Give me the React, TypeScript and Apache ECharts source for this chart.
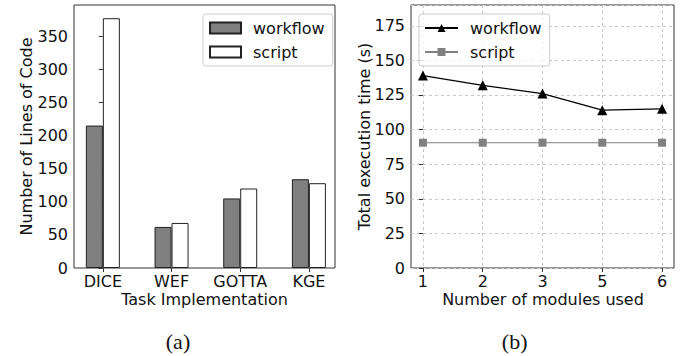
import React, { useEffect, useRef } from "react";
import * as echarts from "echarts";

const taskCategories = ["DICE", "WEF", "GOTTA", "KGE"];
const workflowLoc = [215, 62, 105, 134];
const scriptLoc = [377, 68, 120, 128];

const moduleLabels = ["1", "2", "3", "5", "6"];
const workflowTime = [139, 132, 126, 114, 115];
const scriptTime = [90.5, 90.5, 90.5, 90.5, 90.5];

const FONT = "DejaVu Sans";
const FS = 16;
const TXT = "#111";
const AX = "#333";

export default function App() {
  const ref = useRef<HTMLDivElement>(null);
  useEffect(() => {
    document.body.style.margin = "0";
    const chart = echarts.init(ref.current!, null, { renderer: "svg" });
    const taskIdx = taskCategories.map((_, i) => i);
    const modIdx = moduleLabels.map((_, i) => i);
    const legendBase = {
      orient: "vertical" as const,
      itemGap: 6,
      borderColor: "#cccccc",
      borderWidth: 1,
      borderRadius: 3,
      backgroundColor: "rgba(255,255,255,0.8)",
      formatter: (name: string) => `{t|${name.trim()}}`,
      textStyle: {
        fontFamily: FONT, fontSize: FS, color: TXT, lineHeight: 18,
        rich: { t: { fontFamily: FONT, fontSize: FS, color: TXT, lineHeight: 18, padding: [0, 0, 0, 7] } },
      },
    };
    const option: any = {
      animation: false,
      grid: [
        { left: 74, top: 5, width: 261, height: 263, show: true, borderColor: AX, borderWidth: 1, backgroundColor: "transparent" },
        { left: 411, top: 5, width: 263, height: 263, show: true, borderColor: AX, borderWidth: 1, backgroundColor: "transparent" },
      ],
      xAxis: [
        {
          gridIndex: 0,
          type: "value",
          min: -0.42,
          max: 3.38,
          axisLine: { show: false },
          axisTick: { show: true, length: 4, lineStyle: { color: AX }, customValues: taskIdx },
          axisLabel: {
            customValues: taskIdx,
            formatter: (v: number) => taskCategories[Math.round(v)] ?? "",
            fontFamily: FONT, fontSize: FS, color: TXT, margin: 5,
          },
          splitLine: { show: false },
        },
        {
          gridIndex: 1,
          type: "value",
          min: -0.2,
          max: 4.2,
          axisLine: { show: false },
          axisTick: { show: true, length: 4, lineStyle: { color: AX }, customValues: modIdx },
          axisLabel: {
            customValues: modIdx,
            formatter: (v: number) => moduleLabels[Math.round(v)] ?? "",
            fontFamily: FONT, fontSize: FS, color: TXT, margin: 5,
          },
          splitLine: { show: true, lineStyle: { color: "#c8c8c8", type: [3, 3], width: 1 } },
        },
      ],
      yAxis: [
        {
          gridIndex: 0,
          type: "value",
          min: 0,
          max: 397,
          interval: 50,
          axisLine: { show: false },
          axisTick: { show: true, length: 4, lineStyle: { color: AX } },
          axisLabel: { fontFamily: FONT, fontSize: FS, color: TXT, margin: 6, showMaxLabel: false },
          splitLine: { show: false },
        },
        {
          gridIndex: 1,
          type: "value",
          min: 0,
          max: 190,
          interval: 25,
          axisLine: { show: false },
          axisTick: { show: true, length: 4, lineStyle: { color: AX } },
          axisLabel: { fontFamily: FONT, fontSize: FS, color: TXT, margin: 6, showMaxLabel: false },
          splitLine: { show: true, lineStyle: { color: "#c8c8c8", type: [3, 3], width: 1 } },
        },
      ],
      legend: [
        {
          ...legendBase,
          data: ["workflow", "script"],
          icon: "rect",
          left: 203,
          top: 14,
          padding: [5, 8, 5, 6],
          itemWidth: 31,
          itemHeight: 11,
        },
        {
          ...legendBase,
          data: ["workflow ", "script "],
          left: 419,
          top: 14,
          padding: [5, 8, 5, 5],
          itemWidth: 33,
          itemHeight: 10,
        },
      ],
      series: [
        {
          name: "workflow",
          type: "bar",
          xAxisIndex: 0,
          yAxisIndex: 0,
          barWidth: 17,
          barGap: "0%",
          data: workflowLoc.map((v, i) => [i, v]),
          itemStyle: { color: "#808080", borderColor: "#222", borderWidth: 1 },
        },
        {
          name: "script",
          type: "bar",
          xAxisIndex: 0,
          yAxisIndex: 0,
          barWidth: 17,
          barGap: "0%",
          data: scriptLoc.map((v, i) => [i, v]),
          itemStyle: { color: "#ffffff", borderColor: "#222", borderWidth: 1 },
        },
        {
          name: "workflow ",
          type: "line",
          xAxisIndex: 1,
          yAxisIndex: 1,
          data: workflowTime.map((v, i) => [i, v]),
          symbol: "triangle",
          symbolSize: 10,
          lineStyle: { color: "#000", width: 1.2 },
          itemStyle: { color: "#000" },
        },
        {
          name: "script ",
          type: "line",
          xAxisIndex: 1,
          yAxisIndex: 1,
          data: scriptTime.map((v, i) => [i, v]),
          symbol: "rect",
          symbolSize: 8,
          lineStyle: { color: "#808080", width: 1.2 },
          itemStyle: { color: "#808080" },
        },
      ],
      graphic: [
        { type: "text", x: 26, y: 136.5, rotation: Math.PI / 2, style: { text: "Number of Lines of Code", font: `${FS}px "${FONT}"`, fill: TXT, align: "center", verticalAlign: "middle" } },
        { type: "text", x: 204.5, y: 299.5, style: { text: "Task Implementation", font: `${FS}px "${FONT}"`, fill: TXT, align: "center", verticalAlign: "middle" } },
        { type: "text", x: 364.5, y: 136.5, rotation: Math.PI / 2, style: { text: "Total execution time (s)", font: `${FS}px "${FONT}"`, fill: TXT, align: "center", verticalAlign: "middle" } },
        { type: "text", x: 543, y: 299.5, style: { text: "Number of modules used", font: `${FS}px "${FONT}"`, fill: TXT, align: "center", verticalAlign: "middle" } },
        { type: "text", x: 178, y: 341, style: { text: "(a)", font: `22px "Liberation Serif"`, fill: TXT, align: "center", verticalAlign: "middle" } },
        { type: "text", x: 514.7, y: 341, style: { text: "(b)", font: `22px "Liberation Serif"`, fill: TXT, align: "center", verticalAlign: "middle" } },
      ],
    };
    chart.setOption(option);
    return () => chart.dispose();
  }, []);
  return <div ref={ref} style={{ width: 688, height: 356 }} />;
}
